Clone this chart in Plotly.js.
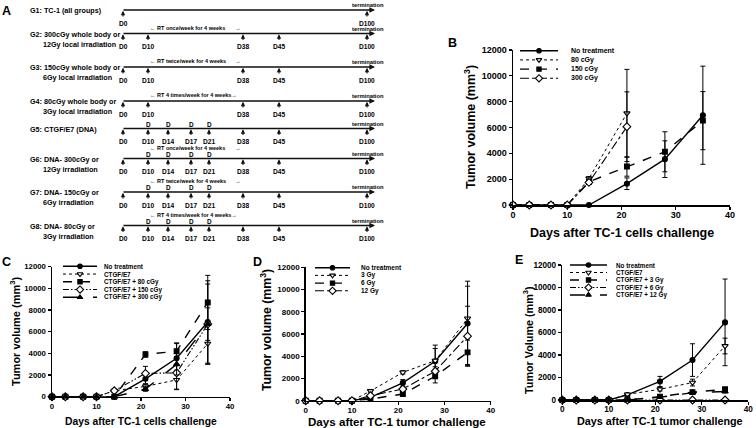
<!DOCTYPE html>
<html><head><meta charset="utf-8">
<script src="https://cdn.plot.ly/plotly-3.0.1.min.js"></script>
<style>html,body{margin:0;padding:0;background:#fff}#chart{width:756px;height:428px}</style>
</head><body><div id="chart"></div>
<script>
const FONT = 'Liberation Sans, Arial, sans-serif';
const W = 756, H = 428;

// ---------- data ----------
const days = [0, 3, 7, 10, 14, 21, 28, 35];
const xTicks = [0, 10, 20, 30, 40];
const yTicks = [0, 2000, 4000, 6000, 8000, 10000, 12000];

// Panel B
const bNames = ['No treatment', '80 cGy', '150 cGy', '300 cGy'];
const bNoTreat = [0, 0, 0, 0, 0, 1650, 3550, 6950];
const bNoTreatErr = [0, 0, 0, 0, 0, 450, 1420, 3800];
const b80 = [0, 0, 0, 0, 2050, 7100];
const b80Err = [0, 0, 0, 0, 150, 3400];
const b150 = [0, 0, 0, 0, 1800, 2980, 4120, 6530];
const b150Err = [0, 0, 0, 0, 150, 750, 1550, 2250];
const b300 = [0, 0, 0, 0, 1750, 6060];
const b300Err = [0, 0, 0, 0, 150, 2700];

// Panel C
const cNames = ['No treatment', 'CTGF/E7', 'CTGF/E7 + 80 cGy', 'CTGF/E7 + 150 cGy', 'CTGF/E7 + 300 cGy'];
const cNoTreat = [0, 0, 0, 0, 0, 1650, 3550, 6900];
const cNoTreatErr = [0, 0, 0, 0, 0, 450, 1420, 3800];
const cCTGF = [0, 0, 0, 0, 550, 950, 1550, 4900];
const cCTGFErr = [0, 0, 0, 0, 0, 200, 900, 1900];
const c80 = [0, 0, 0, 0, 0, 3900, 4200, 8700];
const c80Err = [0, 0, 0, 0, 0, 250, 700, 2500];
const c150 = [0, 0, 0, 0, 550, 2150, 2200, 6700];
const c150Err = [0, 0, 0, 0, 0, 650, 1500, 3700];
const c300 = [0, 0, 0, 0, 0, 700, 3000, 6700];
const c300Err = [0, 0, 0, 0, 0, 200, 1000, 1500];

// Panel D
const dNames = ['No treatment', '3 Gy', '6 Gy', '12 Gy'];
const dNoTreat = [0, 0, 0, 0, 300, 1600, 3550, 6950];
const dNoTreatErr = [0, 0, 0, 0, 0, 300, 1450, 3800];
const d3 = [0, 0, 0, 0, 870, 2550, 3600, 7400];
const d3Err = [0, 0, 0, 0, 100, 150, 1100, 2900];
const d6 = [0, 0, 0, 0, 150, 600, 2200, 4350];
const d6Err = [0, 0, 0, 0, 0, 100, 600, 1100];
const d12 = [0, 0, 0, 0, 450, 1050, 2650, 5800];
const d12Err = [0, 0, 0, 0, 0, 100, 400, 2700];

// Panel E
const eNames = ['No treatment', 'CTGF/E7', 'CTGF/E7 + 3 Gy', 'CTGF/E7 + 6 Gy', 'CTGF/E7 + 12 Gy'];
const eNoTreat = [0, 0, 0, 0, 450, 1650, 3550, 6900];
const eNoTreatErr = [0, 0, 0, 0, 0, 450, 1450, 3850];
const eCTGF = [0, 0, 0, 0, 500, 950, 1550, 4800];
const eCTGFErr = [0, 0, 0, 0, 0, 150, 300, 700];
const e3 = [0, 0, 0, 0, 0, 300, 700, 950];
const e3Err = [0, 0, 0, 0, 0, 50, 100, 150];
const e6 = [0, 0, 0, 0, 0, 0, 0, 0];
const e6Err = [0, 0, 0, 0, 0, 0, 0, 0];
const e12 = [0, 0, 0, 0, 0, 250, 650, 750];
const e12Err = [0, 0, 0, 0, 0, 50, 100, 100];

// Panel A (schedule schematic)
const tlLabels = ['D0', 'D10', 'D14', 'D17', 'D21', 'D38', 'D45', 'D100'];
const groupText = [
  ['G1: TC-1 (all groups)'],
  ['G2: 300cGy whole body or', '12Gy local irradiation'],
  ['G3: 150cGy whole body or', '6Gy local irradiation'],
  ['G4: 80cGy whole body or', '3Gy local irradiation'],
  ['G5: CTGF/E7 (DNA)'],
  ['G6: DNA- 300cGy or', '12Gy irradiation'],
  ['G7: DNA- 150cGy or', '6Gy irradiation'],
  ['G8: DNA- 80cGy or', '3Gy irradiation']
];
const groupRT = ['', '← RT once/week for 4 weeks', '← RT twice/week for 4 weeks', '← RT 4 times/week for 4 weeks→',
  '', '← RT once/week for 4 weeks', '← RT twice/week for 4 weeks', '← RT 4 times/week for 4 weeks→'];
const groupDays = [[0, 7], [0, 1, 5, 6, 7], [0, 1, 5, 6, 7], [0, 1, 5, 6, 7],
  [0, 1, 2, 3, 4, 5, 6, 7], [0, 1, 2, 3, 4, 5, 6, 7], [0, 1, 2, 3, 4, 5, 6, 7], [0, 1, 2, 3, 4, 5, 6, 7]];
const doseDays = [1, 2, 3, 4];
const groupDose = [false, false, false, false, true, true, true, true];

// ---------- layout constants (pixel positions) ----------
const tlPos = [123, 148, 168, 191, 209, 243, 279, 367];
const rowY = [10, 33.5, 67, 101, 128.5, 158.5, 192, 225.5];
const tlStart = 122, tlEnd = 375;

const STY = {
  solid: {dash: 'solid', lw: 1.4, symbol: 'circle', fill: 'black', size: 5},
  dot: {dash: 'dot', lw: 1, symbol: 'triangle-down', fill: 'white', size: 5.5},
  dash: {dash: 'dash', lw: 1.4, symbol: 'square', fill: 'black', size: 4.8},
  dashdot: {dash: 'dashdot', lw: 1.1, symbol: 'diamond', fill: 'white', size: 6},
  dashdotdot: {dash: '6px,2px,1.5px,2px,1.5px,2px', lw: 1.1, symbol: 'diamond', fill: 'white', size: 6},
  longdash: {dash: 'longdash', lw: 1.4, symbol: 'triangle-up', fill: 'black', size: 5.5}
};

const panels = [
  {xa: 'x', ya: 'y', names: bNames, vals: [bNoTreat, b80, b150, b300], errs: [bNoTreatErr, b80Err, b150Err, b300Err],
   sty: ['solid', 'dot', 'dash', 'dashdot'], dom: [513, 730, 50, 205], tick: 9,
   leg: {x0: 520, x1: 558, tx: 570, y0: 50.7, dy: 9.2, fs: 7},
   xt: {x: 622, y: 233, s: 12.5, t: 'Days after TC-1 cells challenge'},
   yt: {x: 470, y: 127, s: 12.5, t: 'Tumor volume (mm<sup>3</sup>)'}, letter: {t: 'B', x: 452, y: 43}},
  {xa: 'x2', ya: 'y2', names: cNames, vals: [cNoTreat, cCTGF, c80, c150, c300], errs: [cNoTreatErr, cCTGFErr, c80Err, c150Err, c300Err],
   sty: ['solid', 'dot', 'dash', 'dashdotdot', 'longdash'], dom: [52, 230, 266.7, 396.7], tick: 7.8,
   leg: {x0: 63, x1: 97, tx: 103, y0: 266.3, dy: 7.75, fs: 6.3},
   xt: {x: 141, y: 421, s: 10.3, t: 'Days after TC-1 cells challenge'},
   yt: {x: 15, y: 331, s: 11, t: 'Tumor volume (mm<sup>3</sup>)'}, letter: {t: 'C', x: 6, y: 262}},
  {xa: 'x3', ya: 'y3', names: dNames, vals: [dNoTreat, d3, d6, d12], errs: [dNoTreatErr, d3Err, d6Err, d12Err],
   sty: ['solid', 'dot', 'dash', 'dashdot'], dom: [305.7, 490.7, 267.3, 400.7], tick: 8,
   leg: {x0: 315, x1: 350, tx: 360, y0: 267.7, dy: 7.7, fs: 6.5},
   xt: {x: 396.5, y: 421, s: 11.6, t: 'Days after TC-1 tumor challenge'},
   yt: {x: 266, y: 330, s: 12.3, t: 'Tumor volume (mm<sup>3</sup>)'}, letter: {t: 'D', x: 257, y: 262}},
  {xa: 'x4', ya: 'y4', names: eNames, vals: [eNoTreat, eCTGF, e3, e6, e12], errs: [eNoTreatErr, eCTGFErr, e3Err, e6Err, e12Err],
   sty: ['solid', 'dot', 'dash', 'dashdotdot', 'longdash'], dom: [562.3, 748.3, 265, 400], tick: 8.2,
   leg: {x0: 570, x1: 607, tx: 615, y0: 265, dy: 7.5, fs: 6.3},
   xt: {x: 659.5, y: 421, s: 10.8, t: 'Days after TC-1 tumor challenge'},
   yt: {x: 528, y: 340, s: 10.8, t: 'Tumor Volume (mm<sup>3</sup>)'}, letter: {t: 'E', x: 519, y: 260}}
];

const traces = [];
const annotations = [];
const layout = {
  width: W, height: H, margin: {l: 0, r: 0, t: 0, b: 0, pad: 0},
  paper_bgcolor: 'white', plot_bgcolor: 'rgba(0,0,0,0)',
  showlegend: false, font: {family: FONT, color: 'black'},
  xaxis5: {domain: [0, 1], range: [0, W], visible: false, fixedrange: true, anchor: 'y5'},
  yaxis5: {domain: [0, 1], range: [H, 0], visible: false, fixedrange: true, anchor: 'x5'},
  annotations: annotations
};

function txt(t, x, y, size, opts) {
  annotations.push(Object.assign({text: t, x: x, y: y, xref: 'x5', yref: 'y5', showarrow: false, borderpad: 0,
    xanchor: 'center', yanchor: 'middle', font: {family: FONT, size: size, color: 'black', weight: 'bold'}}, opts || {}));
}
function arrow(x, y, ax, ay, w, s) {
  annotations.push({text: '', x: x, y: y, ax: ax, ay: ay, xref: 'x5', yref: 'y5', axref: 'x5', ayref: 'y5',
    showarrow: true, arrowhead: 2, arrowsize: s, arrowwidth: w, arrowcolor: '#111', standoff: 0, startstandoff: 0});
}

// ---------- panels B–E ----------
panels.forEach((p, pi) => {
  const xn = p.xa.replace('x', 'xaxis'), yn = p.ya.replace('y', 'yaxis');
  const tf = {family: FONT, size: p.tick, color: 'black', weight: 'bold'};
  layout[xn] = {domain: [p.dom[0] / W, p.dom[1] / W], range: [0, 40], tickvals: xTicks, anchor: p.ya,
    showline: true, linecolor: 'black', linewidth: 1.5, ticks: 'outside', ticklen: 3, tickwidth: 1.2, tickcolor: 'black',
    ticklabelstandoff: -2,
    showgrid: false, zeroline: false, tickfont: tf, fixedrange: true};
  layout[yn] = {domain: [1 - p.dom[3] / H, 1 - p.dom[2] / H], range: [0, 12000], tickvals: yTicks, tickformat: 'd', anchor: p.xa,
    showline: true, linecolor: 'black', linewidth: 1.5, ticks: 'outside', ticklen: 3, tickwidth: 1.2, tickcolor: 'black',
    showgrid: false, zeroline: false, tickfont: tf, fixedrange: true};
  p.vals.forEach((v, i) => {
    const s = STY[p.sty[i]];
    traces.push({x: days.slice(0, v.length), y: v, xaxis: p.xa, yaxis: p.ya, mode: 'lines+markers', cliponaxis: false,
      line: {color: 'black', width: s.lw, dash: s.dash},
      marker: {symbol: s.symbol, size: s.size, color: s.fill, line: {color: 'black', width: 1.1}},
      error_y: {type: 'data', array: p.errs[i], visible: true, color: 'black', thickness: 1, width: 2.5},
      hoverinfo: 'skip'});
    // legend entry
    const ly = p.leg.y0 + i * p.leg.dy;
    traces.push({x: [p.leg.x0, (p.leg.x0 + p.leg.x1) / 2, p.leg.x1], y: [ly, ly, ly], xaxis: 'x5', yaxis: 'y5',
      mode: 'lines+markers', cliponaxis: false, line: {color: 'black', width: s.lw, dash: s.dash},
      marker: {symbol: s.symbol, size: s.size - 0.5, color: s.fill, opacity: [0, 1, 0], line: {color: 'black', width: 1.1}},
      hoverinfo: 'skip'});
    txt(p.names[i], p.leg.tx, ly, p.leg.fs, {xanchor: 'left'});
  });
  txt(p.xt.t, p.xt.x, p.xt.y, p.xt.s);
  txt(p.yt.t, p.yt.x, p.yt.y, p.yt.s, {textangle: -90});
  txt(p.letter.t, p.letter.x, p.letter.y, 12.5);
});

// ---------- panel A ----------
txt('A', 6, 10.5, 12.5);
rowY.forEach((ry, g) => {
  arrow(tlEnd, ry, tlStart, ry, 1.6, 0.7);
  groupDays[g].forEach(k => {
    arrow(tlPos[k], ry + 0.8, tlPos[k], ry + 8, 1.1, 0.8);
    txt(tlLabels[k], tlPos[k], ry + 13.2, 6.6);
  });
  txt('termination', tlPos[7] + 1, ry - 5, 5.8);
  groupText[g].forEach((t, j) => {
    txt(t, j === 0 ? 29 : 42, ry + 0.5 + j * 10.2, 7.2, {xanchor: 'left'});
  });
  if (groupRT[g]) {
    const rtY = groupDose[g] ? ry - 10.6 : ry - 6;
    txt(groupRT[g], 149, rtY, 5.5, {xanchor: 'left'});
    if (!groupRT[g].endsWith('→')) txt('→', 238, rtY, 5.5);
  }
  if (groupDose[g]) doseDays.forEach(k => txt('D', tlPos[k], ry - 4.2, 6.4));
});

traces.push({x: [0], y: [0], xaxis: 'x5', yaxis: 'y5', mode: 'markers', marker: {opacity: 0}, hoverinfo: 'skip'});

Plotly.newPlot('chart', traces, layout, {staticPlot: true, displayModeBar: false});
</script></body></html>
